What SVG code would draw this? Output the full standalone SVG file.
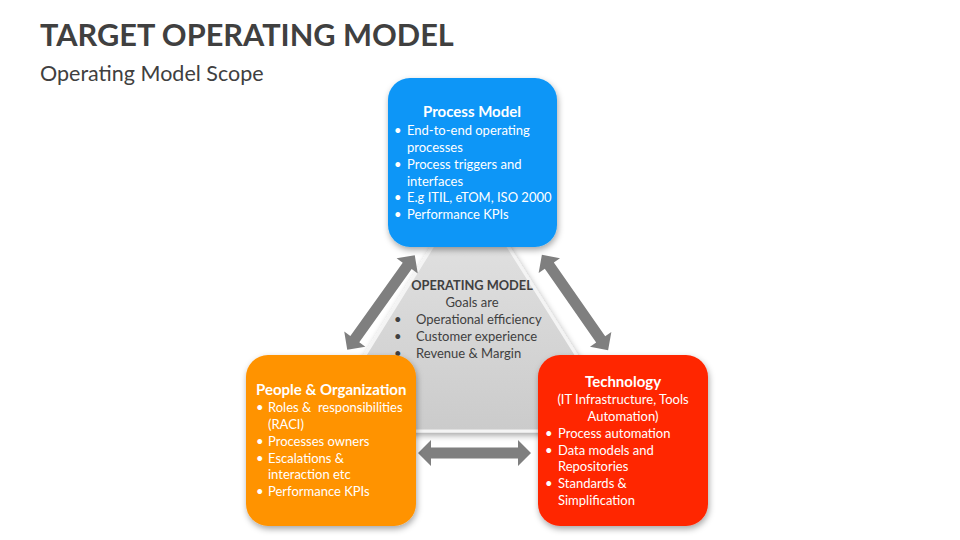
<svg xmlns="http://www.w3.org/2000/svg" width="960" height="540" viewBox="0 0 960 540">
<defs>
<style>
text{font-family:Lato,"Open Sans","Liberation Sans",sans-serif;}
.title{font-size:30.7px;font-weight:bold;fill:#404040;}
.sub{font-size:21.5px;fill:#404040;}
.h{font-size:15px;font-weight:bold;fill:#fff;}
.t{font-size:13px;fill:#fff;}
.c{text-anchor:middle;}
.g{font-size:13px;fill:#404040;}
.gb{font-size:12.8px;font-weight:bold;fill:#404040;}
.arrow{fill:#7f7f7f;}
</style>
<filter id="sh" x="-20%" y="-20%" width="140%" height="140%">
<feDropShadow dx="1" dy="3" stdDeviation="3" flood-color="#000" flood-opacity="0.35"/>
</filter>
<linearGradient id="tri" x1="0" y1="0" x2="0" y2="1">
<stop offset="0" stop-color="#e6e6e6"/>
<stop offset="1" stop-color="#cbcbcb"/>
</linearGradient>
<path id="dbl" d="M-58,0 L-45,-13 L-45,-5.5 L45,-5.5 L45,-13 L58,0 L45,13 L45,5.5 L-45,5.5 L-45,13 Z"/>
</defs>
<rect width="960" height="540" fill="#fff"/>
<text class="title" x="40" y="46">TARGET OPERATING MODEL</text>
<text class="sub" x="40" y="81">Operating Model Scope</text>

<g id="operating-model">
<polygon points="470,186 318,431 624,431" fill="url(#tri)" stroke="#f4f4f4" stroke-width="3" filter="url(#sh)"/>
<text class="gb c" x="472" y="290">OPERATING MODEL</text>
<text class="g c" x="472" y="307">Goals are</text>
<text class="g" x="394" y="324">•</text><text class="g" x="416" y="324">Operational efficiency</text>
<text class="g" x="394" y="341">•</text><text class="g" x="416" y="341">Customer experience</text>
<text class="g" x="394" y="358">•</text><text class="g" x="416" y="358">Revenue &amp; Margin</text>
</g>

<g id="connectors">
<use href="#dbl" class="arrow" transform="translate(381,302.5) rotate(-54.4)"/>
<use href="#dbl" class="arrow" transform="translate(575,302.5) rotate(55.2)"/>
<path class="arrow" d="M418,453 L431,440 L431,447.5 L518,447.5 L518,440 L531,453 L518,466 L518,458.5 L431,458.5 L431,466 Z"/>
</g>

<g id="process-model">
<rect x="388" y="78" width="169" height="169" rx="22" fill="#0a96f7" filter="url(#sh)"/>
<text class="h c" x="472" y="117">Process Model</text>
<text class="t" x="394" y="135">•</text><text class="t" x="407" y="135">End-to-end operating</text>
<text class="t" x="407" y="152">processes</text>
<text class="t" x="394" y="169">•</text><text class="t" x="407" y="169">Process triggers and</text>
<text class="t" x="407" y="186">interfaces</text>
<text class="t" x="394" y="202">•</text><text class="t" x="407" y="202">E.g ITIL, eTOM, ISO 2000</text>
<text class="t" x="394" y="219">•</text><text class="t" x="407" y="219">Performance KPIs</text>
</g>

<g id="people-organization">
<rect x="246" y="355" width="170" height="171" rx="22" fill="#ff9300" filter="url(#sh)"/>
<text class="h" x="256" y="395">People &amp; Organization</text>
<text class="t" x="256" y="412">•</text><text class="t" x="268" y="412">Roles &amp;&#160; responsibilities</text>
<text class="t" x="268" y="429">(RACI)</text>
<text class="t" x="256" y="446">•</text><text class="t" x="268" y="446">Processes owners</text>
<text class="t" x="256" y="463">•</text><text class="t" x="268" y="463">Escalations &amp;</text>
<text class="t" x="268" y="479">interaction etc</text>
<text class="t" x="256" y="496">•</text><text class="t" x="268" y="496">Performance KPIs</text>
</g>

<g id="technology">
<rect x="538" y="355" width="170" height="171" rx="22" fill="#ff2600" filter="url(#sh)"/>
<text class="h c" x="623" y="387">Technology</text>
<text class="t c" x="623" y="404">(IT Infrastructure, Tools</text>
<text class="t c" x="623" y="421">Automation)</text>
<text class="t" x="545" y="438">•</text><text class="t" x="558" y="438">Process automation</text>
<text class="t" x="545" y="455">•</text><text class="t" x="558" y="455">Data models and</text>
<text class="t" x="558" y="471">Repositories</text>
<text class="t" x="545" y="488">•</text><text class="t" x="558" y="488">Standards &amp;</text>
<text class="t" x="558" y="505">Simplification</text>
</g>
</svg>
